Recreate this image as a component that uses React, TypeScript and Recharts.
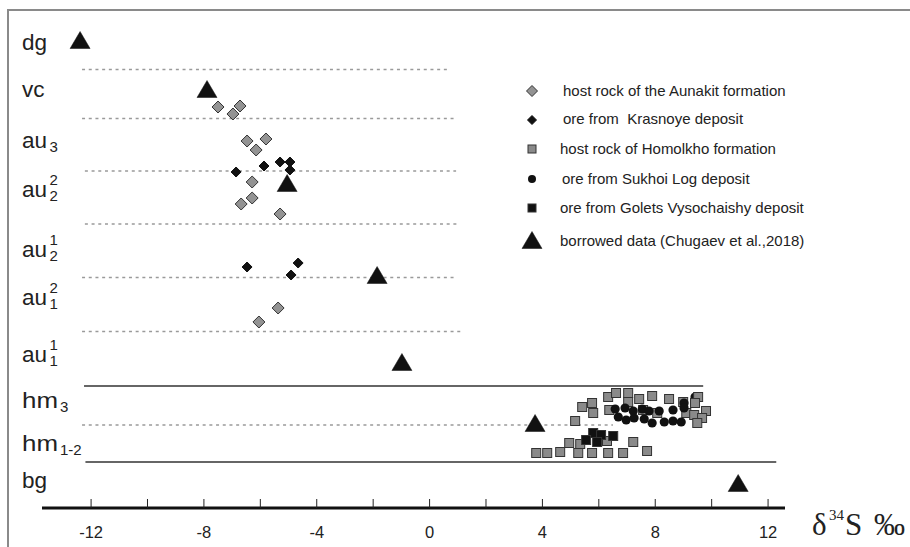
import React from 'react';
import { ScatterChart, Scatter, XAxis, YAxis, ReferenceLine, Legend } from 'recharts';

// ---- axis definitions ----
const xTicks = [-12, -10, -8, -6, -4, -2, 0, 2, 4, 6, 8, 10, 12];
const xTickLabels = ['-12', '', '-8', '', '-4', '', '0', '', '4', '', '8', '', '12'];

// ---- stratigraphic row labels (position on the section scale) ----
const rowNames = ['dg', 'vc', 'au', 'au', 'au', 'au', 'au', 'hm', 'hm', 'bg'];
const rowSubs = ['', '', '3', '2', '2', '1', '1', '3', '1-2', ''];
const rowSups = ['', '', '', '2', '1', '2', '1', '', '', ''];
const rowPositions = [91.6, 82.2, 72.0, 62.2, 50.2, 40.6, 29.2, 20.0, 11.4, 4.0];

// ---- boundaries between units ----
const dottedBoundaries = [
  { y: 87.7, from: -12.32, to: 0.73 },
  { y: 77.9, from: -12.32, to: 0.94 },
  { y: 67.4, from: -12.22, to: 0.94 },
  { y: 56.8, from: -12.22, to: 0.97 },
  { y: 46.1, from: -12.32, to: 0.94 },
  { y: 35.3, from: -12.32, to: 1.12 },
  { y: 16.6, from: -12.32, to: 6.5 },
];
const solidBoundaries = [
  { y: 24.4, from: -12.25, to: 9.7 },
  { y: 9.2, from: -12.2, to: 12.29 },
];

// ---- series ----
const aunakitHost = [
  { x: -7.5, y: 80.2 }, { x: -6.72, y: 80.4 }, { x: -6.97, y: 78.8 },
  { x: -6.47, y: 73.4 }, { x: -5.8, y: 73.8 }, { x: -6.15, y: 71.6 },
  { x: -6.29, y: 65.2 }, { x: -6.29, y: 62.0 }, { x: -6.68, y: 60.8 },
  { x: -5.3, y: 58.8 }, { x: -5.37, y: 40.0 }, { x: -6.05, y: 37.2 },
];
const krasnoyeOre = [
  { x: -6.86, y: 67.2 }, { x: -5.87, y: 68.4 }, { x: -5.3, y: 69.2 },
  { x: -4.95, y: 69.2 }, { x: -4.95, y: 67.6 }, { x: -6.47, y: 48.2 },
  { x: -4.66, y: 49.0 }, { x: -4.91, y: 46.6 },
];
const homolkhoHost = [
  { x: 5.16, y: 17.4 }, { x: 5.41, y: 20.2 }, { x: 5.76, y: 21.0 }, { x: 5.8, y: 19.0 },
  { x: 6.33, y: 22.2 }, { x: 6.61, y: 23.0 }, { x: 6.37, y: 19.6 }, { x: 7.04, y: 23.0 },
  { x: 7.04, y: 21.2 }, { x: 7.43, y: 21.8 }, { x: 7.89, y: 22.4 }, { x: 8.49, y: 21.8 },
  { x: 8.99, y: 21.2 }, { x: 7.57, y: 19.6 }, { x: 8.07, y: 19.0 }, { x: 9.1, y: 19.0 },
  { x: 3.78, y: 11.0 }, { x: 4.17, y: 11.0 }, { x: 4.63, y: 11.2 }, { x: 4.95, y: 13.0 },
  { x: 5.27, y: 11.0 }, { x: 5.34, y: 12.8 }, { x: 5.76, y: 11.0 }, { x: 6.33, y: 11.0 },
  { x: 6.86, y: 11.0 }, { x: 7.22, y: 13.2 }, { x: 7.71, y: 11.4 }, { x: 6.29, y: 13.4 },
];
const homolkhoHostTop = [
  { x: 9.52, y: 22.2 }, { x: 9.41, y: 21.0 }, { x: 9.8, y: 19.4 },
  { x: 9.38, y: 18.6 }, { x: 9.66, y: 18.0 }, { x: 9.49, y: 17.0 },
];
const sukhoiLogOre = [
  { x: 6.58, y: 19.8 }, { x: 6.69, y: 18.2 }, { x: 6.93, y: 20.0 }, { x: 6.97, y: 17.6 },
  { x: 7.22, y: 19.4 }, { x: 7.25, y: 18.0 }, { x: 7.54, y: 19.8 }, { x: 7.61, y: 17.8 },
  { x: 7.78, y: 19.4 }, { x: 7.89, y: 17.0 }, { x: 8.14, y: 19.4 }, { x: 8.32, y: 17.2 },
  { x: 8.63, y: 19.6 }, { x: 8.63, y: 17.4 }, { x: 8.92, y: 17.2 }, { x: 9.02, y: 21.0 },
  { x: 9.02, y: 20.0 }, { x: 9.41, y: 22.2 },
];
const goletsOre = [
  { x: 5.8, y: 15.0 }, { x: 6.08, y: 14.6 }, { x: 6.51, y: 14.4 },
  { x: 5.55, y: 13.6 }, { x: 5.94, y: 13.2 },
];
const borrowed = [
  { x: -12.39, y: 93.6 }, { x: -7.89, y: 83.8 }, { x: -5.05, y: 65.0 },
  { x: -1.86, y: 46.6 }, { x: -0.98, y: 29.2 }, { x: 3.74, y: 17.0 },
  { x: 10.94, y: 5.0 },
];

const legendLabels = [
  'host rock of the Aunakit formation',
  'ore from  Krasnoye deposit',
  'host rock of Homolkho formation',
  'ore from Sukhoi Log deposit',
  'ore from Golets Vysochaishy deposit',
  'borrowed data (Chugaev et al.,2018)',
];

// ---- marker drawing ----
const diamond = (cx: number, cy: number, r: number, fill: string, stroke: string) => (
  <path d={`M${cx},${cy - r}L${cx + r},${cy}L${cx},${cy + r}L${cx - r},${cy}Z`} fill={fill} stroke={stroke} strokeWidth={1} />
);
const square = (cx: number, cy: number, s: number, fill: string, stroke: string) => (
  <rect x={cx - s / 2} y={cy - s / 2} width={s} height={s} fill={fill} stroke={stroke} strokeWidth={1} />
);
const circle = (cx: number, cy: number, r: number, fill: string) => <circle cx={cx} cy={cy} r={r} fill={fill} />;
const triangle = (cx: number, cy: number, w: number, h: number) => (
  <path d={`M${cx},${cy - h / 2}L${cx + w / 2},${cy + h / 2}L${cx - w / 2},${cy + h / 2}Z`} fill="#111" stroke="#111" strokeWidth={0.5} />
);

const GREY = '#8a8a8a';
const OUT = '#333';
const SANS = "'Liberation Sans', Arial, sans-serif";

const shapeGreyDiamond = (p: any) => diamond(p.cx, p.cy, 6, '#939393', OUT);
const shapeBlackDiamond = (p: any) => diamond(p.cx, p.cy, 5, '#111', '#111');
const shapeGreySquare = (p: any) => square(p.cx, p.cy, 9, GREY, OUT);
const shapeCircle = (p: any) => circle(p.cx, p.cy, 4.6, '#111');
const shapeBlackSquare = (p: any) => square(p.cx, p.cy, 9, '#111', OUT);
const shapeTriangle = (p: any) => triangle(p.cx, p.cy, 20, 17);

const legendMarkers = [
  (cx: number, cy: number) => diamond(cx, cy, 5.5, '#939393', OUT),
  (cx: number, cy: number) => diamond(cx, cy, 4.5, '#111', '#111'),
  (cx: number, cy: number) => square(cx, cy, 8, GREY, OUT),
  (cx: number, cy: number) => circle(cx, cy, 4, '#111'),
  (cx: number, cy: number) => square(cx, cy, 8, '#111', OUT),
  (cx: number, cy: number) => triangle(cx, cy, 20, 17),
];
const legendMarkerY = [16, 45, 74, 104, 133, 165];
const legendTextY = [21, 49, 79, 109, 138, 171];
const legendTextX = [53, 53, 50, 52, 50, 50];

const LegendBox = () => (
  <svg width={330} height={185} style={{ overflow: 'visible', display: 'block' }}>
    {legendLabels.map((t, i) => (
      <g key={i}>
        {legendMarkers[i](22, legendMarkerY[i])}
        <text x={legendTextX[i]} y={legendTextY[i]} fontSize={15} fill="#222" fontFamily={SANS} style={{ whiteSpace: 'pre' }}>
          {t}
        </text>
      </g>
    ))}
  </svg>
);

const XTick = (props: any) => {
  const { x, y, index } = props;
  return (
    <g>
      <line x1={x} x2={x} y1={y - 9} y2={y} stroke="#222" strokeWidth={1} />
      <text x={x} y={y + 30} textAnchor="middle" fontSize={16.5} fill="#222" fontFamily={SANS}>
        {xTickLabels[index]}
      </text>
    </g>
  );
};

const YTick = (props: any) => {
  const { y, index } = props;
  const base = rowNames[index];
  const sub = rowSubs[index];
  const sup = rowSups[index];
  const baseX = 22;
  const isHm = base === 'hm';
  const baseW = isHm ? 36 : 25.5;
  return (
    <g>
      <text
        x={baseX}
        y={y}
        fontSize={22.5}
        fill="#222"
        fontFamily={SANS}
        {...(isHm ? { textLength: baseW, lengthAdjust: 'spacingAndGlyphs' } : {})}
      >
        {base}
      </text>
      {sub && (
        <text x={baseX + baseW + 2} y={y + 4} fontSize={15} fill="#222" fontFamily={SANS}>{sub}</text>
      )}
      {sup && (
        <text x={baseX + baseW + 2} y={y - 12} fontSize={15} fill="#222" fontFamily={SANS}>{sup}</text>
      )}
    </g>
  );
};

const AxisTitle = (props: any) => {
  const vb = props.viewBox || { x: 42, y: 508, width: 743 };
  const x0 = vb.x + vb.width + 27;
  const yb = vb.y + 27;
  const serif = "'Liberation Serif', 'Times New Roman', serif";
  return (
    <g fill="#222" fontFamily={serif}>
      <text x={x0} y={yb} fontSize={31}>δ</text>
      <text x={x0 + 17} y={yb - 15} fontSize={15}>34</text>
      <text x={x0 + 33} y={yb} fontSize={31}>S</text>
      <text x={x0 + 62} y={yb} fontSize={31}>‰</text>
    </g>
  );
};

export default function App() {
  return (
    <div style={{ position: 'absolute', left: 0, top: 0, width: 910, height: 547, background: '#fff', fontFamily: 'Arial' }}>
      <div style={{ position: 'absolute', left: 7, top: 9, width: 903, height: 538, borderTop: '2px solid #8a8a8a', borderLeft: '2px solid #8a8a8a', boxSizing: 'border-box' }} />
      <div style={{ position: 'absolute', left: 0, top: 0 }}>
        <ScatterChart width={910} height={547} margin={{ top: 8, right: 125, bottom: 0, left: 0 }}>
          <XAxis
            type="number"
            dataKey="x"
            domain={[-13.74, 12.6]}
            allowDataOverflow
            ticks={xTicks}
            interval={0}
            tickLine={false}
            tickSize={0}
            tickMargin={0}
            height={39}
            axisLine={{ stroke: '#111', strokeWidth: 3 }}
            tick={<XTick />}
            label={{ content: (p: any) => <AxisTitle {...p} /> }}
          />
          <YAxis
            type="number"
            dataKey="y"
            domain={[0, 100]}
            allowDataOverflow
            ticks={rowPositions}
            interval={0}
            width={42}
            axisLine={false}
            tickLine={false}
            tickSize={0}
            tick={<YTick />}
          />
          {dottedBoundaries.map((b, i) => (
            <ReferenceLine key={`d${i}`} segment={[{ x: b.from, y: b.y }, { x: b.to, y: b.y }]} stroke="#9a9a9a" strokeWidth={1.3} strokeDasharray="3 3.7" ifOverflow="visible" />
          ))}
          {solidBoundaries.map((b, i) => (
            <ReferenceLine key={`s${i}`} segment={[{ x: b.from, y: b.y }, { x: b.to, y: b.y }]} stroke="#333" strokeWidth={1.5} ifOverflow="visible" />
          ))}
          <Scatter name="host rock of Homolkho formation" data={homolkhoHost} shape={shapeGreySquare} isAnimationActive={false} />
          <Scatter name="ore from Sukhoi Log deposit" data={sukhoiLogOre} shape={shapeCircle} isAnimationActive={false} />
          <Scatter name="host rock of Homolkho formation (edge)" data={homolkhoHostTop} shape={shapeGreySquare} isAnimationActive={false} legendType="none" />
          <Scatter name="ore from Golets Vysochaishy deposit" data={goletsOre} shape={shapeBlackSquare} isAnimationActive={false} />
          <Scatter name="host rock of the Aunakit formation" data={aunakitHost} shape={shapeGreyDiamond} isAnimationActive={false} />
          <Scatter name="ore from Krasnoye deposit" data={krasnoyeOre} shape={shapeBlackDiamond} isAnimationActive={false} />
          <Scatter name="borrowed data (Chugaev et al.,2018)" data={borrowed} shape={shapeTriangle} isAnimationActive={false} />
          <Legend
            layout="horizontal"
            verticalAlign="middle"
            align="center"
            content={() => <LegendBox />}
            wrapperStyle={{ position: 'absolute', left: 510, top: 75, width: 330, height: 185 }}
          />
        </ScatterChart>
      </div>
    </div>
  );
}
